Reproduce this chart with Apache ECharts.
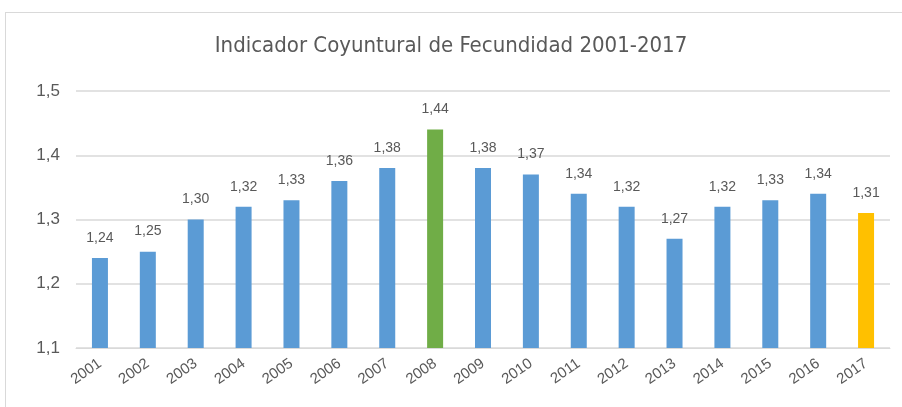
<!DOCTYPE html>
<html>
<head>
<meta charset="utf-8">
<script src="https://cdn.jsdelivr.net/npm/echarts@6/dist/echarts.min.js"></script>
<style>
  html, body { margin: 0; padding: 0; background: #fff; }
  #frame { position: absolute; left: 5px; top: 12px; width: 920px; height: 420px; border: 1px solid #d9d9d9; box-sizing: border-box; }
  #chart { position: absolute; left: 0; top: 0; width: 902px; height: 407px; }
</style>
</head>
<body>
<div id="frame"></div>
<div id="chart"></div>
<script>
const years = ['2001','2002','2003','2004','2005','2006','2007','2008','2009','2010','2011','2012','2013','2014','2015','2016','2017'];
const icf = [1.24, 1.25, 1.30, 1.32, 1.33, 1.36, 1.38, 1.44, 1.38, 1.37, 1.34, 1.32, 1.27, 1.32, 1.33, 1.34, 1.31];
const barColors = {'2008': '#70ad47', '2017': '#ffc000'};
const baseColor = '#5b9bd5';

const fmt = v => v.toFixed(2).replace('.', ',');

let chart = echarts.init(document.getElementById('chart'));
chart.setOption({
  animation: false,
  title: {
    text: 'Indicador Coyuntural de Fecundidad 2001-2017',
    left: 'center',
    top: 30,
    textStyle: { fontFamily: 'Liberation Sans Narrow, DejaVu Sans Condensed, sans-serif', fontWeight: 'normal', fontSize: 22, color: '#595959' }
  },
  grid: { left: 76, right: 12, top: 91, bottom: 59 },
  xAxis: {
    type: 'category',
    data: years,
    axisLine: { lineStyle: { color: '#d9d9d9' } },
    axisTick: { show: false },
    axisLabel: { rotate: 35, color: '#595959', fontSize: 15, margin: 14, fontFamily: 'Liberation Sans Narrow, sans-serif' }
  },
  yAxis: {
    type: 'value',
    min: 1.1, max: 1.5, interval: 0.1,
    axisLine: { show: false },
    axisTick: { show: false },
    splitLine: { lineStyle: { color: '#d9d9d9', width: 1.5 } },
    axisLabel: { color: '#595959', fontSize: 17, margin: 16, formatter: v => v.toFixed(1).replace('.', ',') }
  },
  series: [{
    type: 'bar',
    barWidth: 16,
    data: icf.map((v, i) => ({ value: v, itemStyle: { color: barColors[years[i]] || baseColor } })),
    label: {
      show: true, position: 'top', distance: 13,
      color: '#595959', fontSize: 14,
      formatter: p => fmt(p.value)
    }
  }]
});
</script>
</body>
</html>
